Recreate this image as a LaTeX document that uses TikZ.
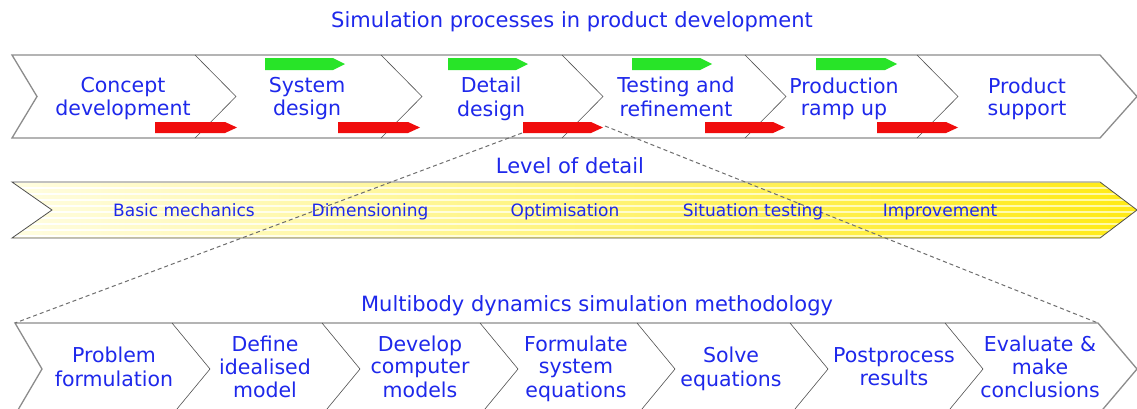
\documentclass[tikz,border=0pt]{standalone}
\usepackage{fontspec}
\setmainfont{DejaVu Sans}
\definecolor{txtblue}{RGB}{30,40,235}
\definecolor{barred}{RGB}{240,12,12}
\definecolor{bargreen}{RGB}{40,228,40}
\definecolor{framegray}{RGB}{140,140,140}
\definecolor{linegray}{RGB}{80,80,80}
\definecolor{guidegray}{RGB}{110,110,110}
\definecolor{yelstrong}{RGB}{255,234,20}
\definecolor{yellight}{RGB}{255,250,165}
\definecolor{yelpale}{RGB}{255,253,225}
\newcommand\twoln[2]{\strut #1\\\strut #2}
\newcommand\threeln[3]{\strut #1\\\strut #2\\\strut #3}
\tikzset{
  lbl/.style={text=txtblue, font=\fontsize{20.5}{22}\selectfont, align=center, inner sep=0pt},
  ttl/.style={text=txtblue, font=\fontsize{21}{24}\selectfont, inner sep=0pt, anchor=base},
  bandlbl/.style={text=txtblue, font=\fontsize{17}{20}\selectfont, inner sep=0pt, anchor=base},
  frame/.style={draw=framegray, line width=1.3pt, fill=white},
  sepline/.style={draw=linegray, line width=0.6pt},
  gbar/.style={fill=bargreen},
  rbar/.style={fill=barred},
  guide/.style={draw=guidegray, dash pattern=on 4pt off 3pt, line width=1pt},
}
\begin{document}
\begin{tikzpicture}[x=1pt,y=-1pt]
\clip (0,0) rectangle (1137,408);
\fill[white] (0,0) rectangle (1137,408);

% ---- titles
\node[ttl] (title1) at (572,27) {Simulation processes in product development};
\node[ttl] (title2) at (570,173) {Level of detail};
\node[ttl] (title3) at (597,311) {Multibody dynamics simulation methodology};

% ---- top row (product development)
\draw[frame] (12,55) -- (1100,55) -- (1137,96.5) -- (1100,138) -- (12,138) -- (37,96.5) -- cycle;
\foreach \x in {195,381,562,745,917}
  \draw[sepline] (\x,55) -- (\x+41,96.5) -- (\x,138);
\foreach \a/\b in {265/345,448/528,632/712,816/897}
  \fill[gbar] (\a,58) -- (\b-12,58) -- (\b,64) -- (\b-12,70) -- (\a,70) -- cycle;
\foreach \a/\b in {155/237,338/420,523/603,705/785,877/958}
  \fill[rbar] (\a,122) -- (\b-12,122) -- (\b,127.5) -- (\b-12,133) -- (\a,133) -- cycle;
\node[lbl] (t1) at (123,100) {\twoln{Concept}{development}};
\node[lbl] (t2) at (307,100) {\twoln{System}{design}};
\node[lbl] (t3) at (491,100) {\twoln{Detail}{design}};
\node[lbl] (t4) at (676,100) {\twoln{Testing and}{refinement}};
\node[lbl] (t5) at (844,100) {\twoln{Production}{ramp up}};
\node[lbl] (t6) at (1027,100) {\twoln{Product}{support}};

% ---- level of detail band
\begin{scope}
  \clip (12,182) -- (1100,182) -- (1137,210) -- (1100,238) -- (12,238) -- (52,210) -- cycle;
  \shade[left color=white, right color=yellight] (12,182) rectangle (1137,238);
  \foreach \y in {183,189,...,237}
    \shade[left color=yelpale, right color=yelstrong] (12,\y) rectangle (1137,\y+3.5);
\end{scope}
\draw[draw=linegray, line width=0.8pt] (12,182) -- (1100,182) -- (1137,210) -- (1100,238) -- (12,238) -- (52,210) -- cycle;

% ---- bottom row (methodology)
\draw[frame] (15,323) -- (1098,323) -- (1137,369) -- (1098,415) -- (15,415) -- (42,369) -- cycle;
\foreach \x in {172,322,480,637,790,945}
  \draw[sepline] (\x,323) -- (\x+38,369) -- (\x,415);

% ---- zoom guides
\coordinate (gA) at (522,133);
\coordinate (gB) at (15,323);
\coordinate (gC) at (605,126);
\coordinate (gD) at (1098,323);
\draw[guide] (gA) -- (gB);
\draw[guide] (gC) -- (gD);

% ---- band labels
\node[bandlbl] (m1) at (184,216) {Basic mechanics};
\node[bandlbl] (m2) at (370,216) {Dimensioning};
\node[bandlbl] (m3) at (565,216) {Optimisation};
\node[bandlbl] (m4) at (753,216) {Situation testing};
\node[bandlbl] (m5) at (940,216) {Improvement};

% ---- bottom labels
\node[lbl] (b1) at (114,370) {\twoln{Problem}{formulation}};
\node[lbl] (b2) at (265,370) {\threeln{Define}{idealised}{model}};
\node[lbl] (b3) at (420,370) {\threeln{Develop}{computer}{models}};
\node[lbl] (b4) at (576,370) {\threeln{Formulate}{system}{equations}};
\node[lbl] (b5) at (731,370) {\twoln{Solve}{equations}};
\node[lbl] (b6) at (894,370) {\twoln{Postprocess}{results}};
\node[lbl] (b7) at (1040,370) {\threeln{Evaluate \&}{make}{conclusions}};
\end{tikzpicture}
\end{document}
